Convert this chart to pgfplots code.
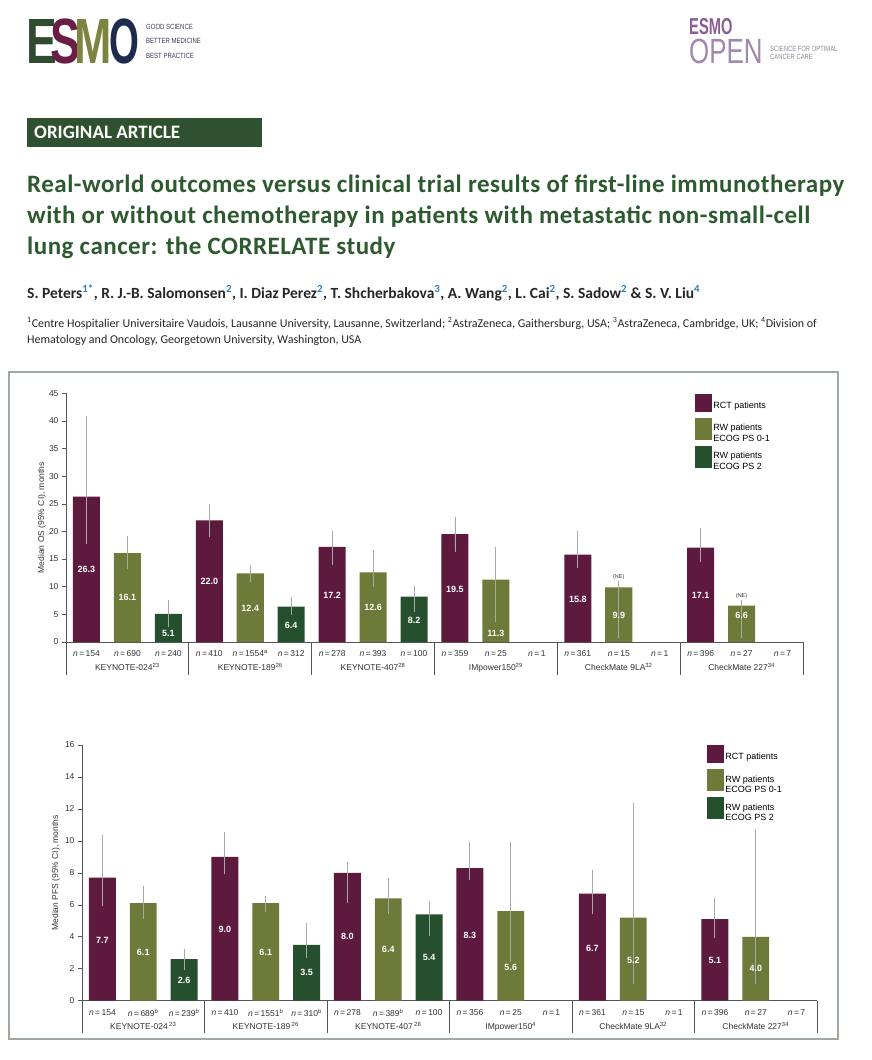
\documentclass[border=0pt]{standalone}
\usepackage{fontspec}
\setmainfont{Liberation Sans}
\newfontfamily\carlito{Carlito}
\newfontfamily\carlitols[LetterSpace=2.0]{Carlito}
\usepackage{pgfplots}
\usepackage{pgfplotstable}
\pgfplotsset{compat=1.18}
\definecolor{rct}{HTML}{5E1A3E}
\definecolor{rwa}{HTML}{6E7A3A}
\definecolor{rwb}{HTML}{26502D}
\definecolor{errc}{HTML}{A8A8A8}
\definecolor{axc}{HTML}{555555}
\definecolor{tickc}{HTML}{333333}
\definecolor{titlegreen}{HTML}{2E5A2F}
\definecolor{boxgreen}{HTML}{2F5130}
\definecolor{framec}{HTML}{9EAA9E}
\definecolor{supblue}{HTML}{2E7DB5}
\definecolor{esmoE}{HTML}{2F4A2E}
\definecolor{esmoS}{HTML}{6A1E45}
\definecolor{esmoM}{HTML}{7D8440}
\definecolor{esmoO}{HTML}{1E2B4E}
\definecolor{esmop}{HTML}{8A5E96}
\definecolor{openp}{HTML}{A088AE}
\definecolor{logotxt}{HTML}{3B3F55}
\newcommand\bsup[1]{\textsuperscript{\textcolor{supblue}{#1}}}

% ---------- OS data ----------
\pgfplotstableread{
x y ep em
0 26.3 14.2 8.1
3 22.0 2.6 2.6
6 17.2 2.5 2.8
9 19.5 2.7 2.7
12 15.8 3.8 2.0
15 17.1 3.0 2.2
}\osrct
\pgfplotstableread{
x y ep em
1 16.1 2.6 2.5
4 12.4 1.1 1.0
7 12.6 3.6 2.2
10 11.3 5.5 7.3
13 9.9 0.7 8.8
16 6.6 0.6 5.5
}\osrwa
\pgfplotstableread{
x y ep em
2 5.1 2.1 2.0
5 6.4 1.3 1.1
8 8.2 1.5 2.3
}\osrwb
\pgfplotstableread{
x ly lab
0 13.1 26.3
1 8.0 16.1
2 1.6 5.1
3 10.9 22.0
4 6.0 12.4
5 3.0 6.4
6 8.45 17.2
7 6.2 12.6
8 4.0 8.2
9 9.5 19.5
10 1.6 11.3
12 7.7 15.8
13 4.8 9.9
15 8.4 17.1
16 4.8 6.6
}\oslab
% ---------- PFS data ----------
\pgfplotstableread{
x y ep em
0 7.7 2.5 1.6
3 9.0 1.4 0.9
6 8.0 0.5 1.7
9 8.3 1.5 0.6
12 6.7 1.3 1.1
15 5.1 1.2 1.0
}\pfsrct
\pgfplotstableread{
x y ep em
1 6.1 0.9 0.8
4 6.1 0.3 0.4
7 6.4 1.1 0.8
10 5.6 4.2 3.0
13 5.2 7.0 4.0
16 4.0 6.6 2.8
}\pfsrwa
\pgfplotstableread{
x y ep em
2 2.6 0.5 0.5
5 3.5 1.2 0.7
8 5.4 0.7 1.2
}\pfsrwb
\pgfplotstableread{
x ly lab
0 3.8 7.7
1 3.0 6.1
2 1.3 2.6
3 4.45 9.0
4 3.0 6.1
5 1.75 3.5
6 4.0 8.0
7 3.2 6.4
8 2.7 5.4
9 4.1 8.3
10 2.1 5.6
12 3.3 6.7
13 2.5 5.2
15 2.5 5.1
16 2.0 4.0
}\pfslab

\pgfplotsset{
  chartbase/.style={
    scale only axis,
    xmin=-0.5, xmax=17.5, ymin=0,
    axis lines*=left,
    axis line style={draw=axc, line width=0.8pt},
    tick align=outside,
    major tick length=4pt,
    ytick style={draw=axc, line width=0.6pt},
    major x tick style={draw=none},
    /pgf/number format/assume math mode=true,
    y tick label style={font=\fontsize{8.5}{9}\selectfont, text=tickc},
    xtick={0,...,17},
    x tick label style={font=\fontsize{8.5}{9}\selectfont, text=tickc, yshift=-1pt},
    extra x ticks={1,4,7,10,13,16},
    extra x tick style={major tick length=0pt, tick label style={yshift=-17pt}},
    ylabel style={font=\fontsize{8.5}{9}\selectfont, text=tickc, anchor=center},
    clip=false,
    legend cell align=left,
    legend style={draw=none, fill=none, anchor=north west,
      font=\fontsize{9}{10.5}\selectfont, row sep=6pt, inner sep=0pt,
      nodes={inner sep=1.5pt}},
  },
  barplot/.style={ybar, bar shift=0pt, bar width=0.66, draw=none, fill=#1,
    error bars/y dir=both, error bars/y explicit,
    error bars/error bar style={color=errc, line width=0.9pt},
    error bars/error mark options={color=errc, mark size=2.5pt, line width=0.9pt}},
  legone/.style={legend image code/.code={\fill[##1] (0pt,-6pt) rectangle (17pt,12pt);}},
  legtwo/.style={legend image code/.code={\fill[##1] (0pt,-9pt) rectangle (17pt,13pt);}},
  labplot/.style={only marks, mark=none, forget plot,
    nodes near coords, point meta=explicit symbolic,
    nodes near coords align=center,
    every node near coord/.append style={font=\fontsize{9}{9}\selectfont\bfseries, text=white, anchor=center, inner sep=0pt}},
}

\begin{document}
\begin{tikzpicture}
\fill[white] (0,0) rectangle (872pt,-1060pt);
\path[use as bounding box] (0,0) rectangle (872pt,-1060pt);

% ---------- ESMO logo ----------
\node[anchor=base west, inner sep=0, text=esmoE, font=\fontsize{64}{64}\selectfont\bfseries] at (26pt,-63pt) {\scalebox{0.72}[1]{E}};
\node[anchor=base west, inner sep=0, text=esmoS, font=\fontsize{64}{64}\selectfont\bfseries] at (50pt,-63pt) {\scalebox{0.7}[1]{S}};
\node[anchor=base west, inner sep=0, text=esmoM, font=\fontsize{64}{64}\selectfont\bfseries] at (74pt,-63pt) {\scalebox{0.7}[1]{M}};
\node[anchor=base west, inner sep=0, text=esmoO, font=\fontsize{64}{64}\selectfont\bfseries] at (109pt,-63pt) {\scalebox{0.6}[1]{O}};
\node[anchor=base west, inner sep=0, text=logotxt, font=\fontsize{7.5}{7.5}\selectfont] at (146pt,-29pt) {\scalebox{0.8}[1]{GOOD SCIENCE}};
\node[anchor=base west, inner sep=0, text=logotxt, font=\fontsize{7.5}{7.5}\selectfont] at (146pt,-43.5pt) {\scalebox{0.8}[1]{BETTER MEDICINE}};
\node[anchor=base west, inner sep=0, text=logotxt, font=\fontsize{7.5}{7.5}\selectfont] at (146pt,-58pt) {\scalebox{0.8}[1]{BEST PRACTICE}};

% ---------- ESMO OPEN logo ----------
\node[anchor=base west, inner sep=0, text depth=0pt, text=esmop, font=\fontsize{23}{23}\selectfont\bfseries] at (689pt,-34pt) {\scalebox{0.64}[1]{ESMO}};
\node[anchor=base west, inner sep=0, text height=26pt, text=openp, font=\fontsize{35}{35}\selectfont] at (689pt,-63pt) {\scalebox{0.74}[1]{OPEN}};
\node[anchor=base west, inner sep=0, text=openp!70!gray, font=\fontsize{7.5}{7.5}\selectfont] at (770pt,-51pt) {\scalebox{0.78}[1]{SCIENCE FOR OPTIMAL}};
\node[anchor=base west, inner sep=0, text=openp!70!gray, font=\fontsize{7.5}{7.5}\selectfont] at (770pt,-59.5pt) {\scalebox{0.78}[1]{CANCER CARE}};

% ---------- Article header ----------
\fill[boxgreen] (27pt,-118pt) rectangle (262pt,-147pt);
\node[anchor=west, inner sep=0, text=white, font=\carlito\bfseries\fontsize{19}{19}\selectfont] at (34pt,-132.5pt) {ORIGINAL ARTICLE};
\node[anchor=base west, inner sep=0, text=titlegreen, font=\carlitols\bfseries\fontsize{25}{25}\selectfont] at (27pt,-192pt) {Real-world outcomes versus clinical trial results of first-line immunotherapy};
\node[anchor=base west, inner sep=0, text=titlegreen, font=\carlitols\bfseries\fontsize{25}{25}\selectfont] at (27pt,-223pt) {with or without chemotherapy in patients with metastatic non-small-cell};
\node[anchor=base west, inner sep=0, text=titlegreen, font=\carlitols\bfseries\fontsize{25}{25}\selectfont] at (27pt,-254pt) {lung cancer: the CORRELATE study};
\node[anchor=base west, inner sep=0, text=black!85, font=\carlito\bfseries\fontsize{15.5}{17}\selectfont] at (27pt,-298pt) {S. Peters\bsup{1*}, R. J.-B. Salomonsen\bsup{2}, I. Diaz Perez\bsup{2}, T. Shcherbakova\bsup{3}, A. Wang\bsup{2}, L. Cai\bsup{2}, S. Sadow\bsup{2} \& S. V. Liu\bsup{4}};
\node[anchor=base west, inner sep=0, text=black!85, font=\carlito\fontsize{12}{13}\selectfont] at (27pt,-327pt) {\textsuperscript{1}Centre Hospitalier Universitaire Vaudois, Lausanne University, Lausanne, Switzerland; \textsuperscript{2}AstraZeneca, Gaithersburg, USA; \textsuperscript{3}AstraZeneca, Cambridge, UK; \textsuperscript{4}Division of};
\node[anchor=base west, inner sep=0, text=black!85, font=\carlito\fontsize{12}{13}\selectfont] at (27pt,-343pt) {Hematology and Oncology, Georgetown University, Washington, USA};

% ---------- figure frame ----------
\draw[framec, line width=1.2pt] (9pt,-372pt) rectangle (838pt,-1039pt);

% ---------- OS chart ----------
\begin{axis}[chartbase,
  at={(66pt,-642pt)}, anchor=south west,
  width=737pt, height=248.7pt,
  ymax=45, ytick={0,5,...,45},
  xticklabels={\textit{n}\,=\,154, \textit{n}\,=\,690, \textit{n}\,=\,240,
    \textit{n}\,=\,410, \textit{n}\,=\,1554\textsuperscript{a}, \textit{n}\,=\,312,
    \textit{n}\,=\,278, \textit{n}\,=\,393, \textit{n}\,=\,100,
    \textit{n}\,=\,359, \textit{n}\,=\,25, \textit{n}\,=\,1,
    \textit{n}\,=\,361, \textit{n}\,=\,15, \textit{n}\,=\,1,
    \textit{n}\,=\,396, \textit{n}\,=\,27, \textit{n}\,=\,7},
  extra x tick labels={KEYNOTE-024\textsuperscript{23}, KEYNOTE-189\textsuperscript{26}, KEYNOTE-407\textsuperscript{28}, IMpower150\textsuperscript{29}, CheckMate 9LA\textsuperscript{32}, CheckMate 227\textsuperscript{34}},
  ylabel={Median OS (95\% CI), months},
  ylabel style={at={(axis description cs:-0.0326,0.5)}},
  legend style={at={(axis description cs:0.853,1.0)}},
]
\addplot[barplot=rct, legone] table[x=x, y=y, y error plus=ep, y error minus=em] {\osrct};
\addlegendentry{RCT patients}
\addplot[barplot=rwa, legtwo] table[x=x, y=y, y error plus=ep, y error minus=em] {\osrwa};
\addlegendentry{\begin{tabular}{@{}l@{}}RW patients\\ECOG PS 0-1\end{tabular}}
\addplot[barplot=rwb, legtwo] table[x=x, y=y, y error plus=ep, y error minus=em] {\osrwb};
\addlegendentry{\begin{tabular}{@{}l@{}}RW patients\\ECOG PS 2\end{tabular}}
\addplot[labplot] table[x=x, y=ly, meta=lab] {\oslab};
\addplot[only marks, mark=none, forget plot, nodes near coords, point meta=explicit symbolic,
  every node near coord/.append style={font=\fontsize{5.5}{6}\selectfont, text=tickc, anchor=center, inner sep=0pt}]
  table[x=x, y=ly, meta=lab] {
x ly lab
13 11.7 (NE)
16 8.4 (NE)
};
\pgfplotsinvokeforeach{-0.5,2.5,5.5,8.5,11.5,14.5,17.5}{
  \draw[axc, line width=0.8pt] (axis cs:#1,0) -- ++(0pt,-33pt);
}
\end{axis}

% ---------- PFS chart ----------
\begin{axis}[chartbase,
  at={(82pt,-1000.7pt)}, anchor=south west,
  width=735pt, height=255.7pt,
  ymax=16, ytick={0,2,...,16},
  xticklabels={\textit{n}\,=\,154, \textit{n}\,=\,689\textsuperscript{b}, \textit{n}\,=\,239\textsuperscript{b},
    \textit{n}\,=\,410, \textit{n}\,=\,1551\textsuperscript{b}, \textit{n}\,=\,310\textsuperscript{b},
    \textit{n}\,=\,278, \textit{n}\,=\,389\textsuperscript{b}, \textit{n}\,=\,100,
    \textit{n}\,=\,356, \textit{n}\,=\,25, \textit{n}\,=\,1,
    \textit{n}\,=\,361, \textit{n}\,=\,15, \textit{n}\,=\,1,
    \textit{n}\,=\,396, \textit{n}\,=\,27, \textit{n}\,=\,7},
  extra x tick labels={KEYNOTE-024\,\textsuperscript{23}, KEYNOTE-189\,\textsuperscript{26}, KEYNOTE-407\,\textsuperscript{28}, IMpower150\textsuperscript{4}, CheckMate 9LA\textsuperscript{32}, CheckMate 227\textsuperscript{34}},
  ylabel={Median PFS (95\% CI), months},
  ylabel style={at={(axis description cs:-0.0354,0.5)}},
  legend style={at={(axis description cs:0.850,1.0)}},
]
\addplot[barplot=rct, legone] table[x=x, y=y, y error plus=ep, y error minus=em] {\pfsrct};
\addlegendentry{RCT patients}
\addplot[barplot=rwa, legtwo] table[x=x, y=y, y error plus=ep, y error minus=em] {\pfsrwa};
\addlegendentry{\begin{tabular}{@{}l@{}}RW patients\\ECOG PS 0-1\end{tabular}}
\addplot[barplot=rwb, legtwo] table[x=x, y=y, y error plus=ep, y error minus=em] {\pfsrwb};
\addlegendentry{\begin{tabular}{@{}l@{}}RW patients\\ECOG PS 2\end{tabular}}
\addplot[labplot] table[x=x, y=ly, meta=lab] {\pfslab};
\pgfplotsinvokeforeach{-0.5,2.5,5.5,8.5,11.5,14.5,17.5}{
  \draw[axc, line width=0.8pt] (axis cs:#1,0) -- ++(0pt,-32pt);
}
\end{axis}
\end{tikzpicture}
\end{document}
